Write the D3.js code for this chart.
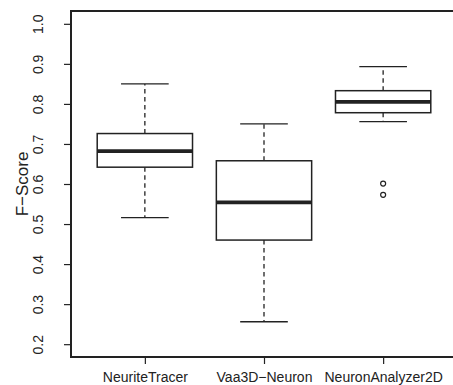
<!DOCTYPE html>
<html>
<head>
<meta charset="utf-8">
<script src="https://cdn.jsdelivr.net/npm/d3@7/dist/d3.min.js"></script>
<style>
  html, body { margin: 0; padding: 0; background: #fff; }
  svg { display: block; font-family: "Liberation Sans", Arial, Helvetica, sans-serif; }
</style>
</head>
<body>
<svg id="chart" width="453" height="385"></svg>
<script>
// Box-plot summaries of F-Score for each tracing tool
const categories  = ["NeuriteTracer", "Vaa3D\u2212Neuron", "NeuronAnalyzer2D"];
const whiskerLow  = [0.516, 0.256, 0.756];
const quartile1   = [0.642, 0.460, 0.778];
const medians     = [0.682, 0.554, 0.805];
const quartile3   = [0.726, 0.658, 0.833];
const whiskerHigh = [0.850, 0.750, 0.893];
const outliers    = [[], [], [0.601, 0.573]];
const yTicks      = [0.2, 0.3, 0.4, 0.5, 0.6, 0.7, 0.8, 0.9, 1.0];
const yTitle      = "F\u2212Score";

const ink = "#222";
const svg = d3.select("#chart");

// Plot region (right edge runs past the window)
const plotLeft = 71, plotRight = 457, plotTop = 11, plotBottom = 357;

const x = d3.scaleLinear().domain([0.38, 3.62]).range([plotLeft, plotRight]);
const y = d3.scaleLinear().domain([0.168, 1.032]).range([plotBottom, plotTop]);
const boxHalf = 0.4, stapleHalf = 0.2;

// frame
svg.append("rect")
  .attr("x", plotLeft).attr("y", plotTop)
  .attr("width", plotRight - plotLeft).attr("height", plotBottom - plotTop)
  .attr("fill", "none").attr("stroke", ink).attr("stroke-width", 2);

// y axis
const yAxis = svg.append("g")
  .attr("transform", `translate(${plotLeft},0)`)
  .call(d3.axisLeft(y).tickValues(yTicks).tickSize(7).tickFormat(d3.format(".1f")));
yAxis.select(".domain").remove();
yAxis.selectAll(".tick line").attr("stroke", ink).attr("stroke-width", 1.2);
yAxis.selectAll(".tick text")
  .attr("x", 0).attr("y", 0).attr("dy", 0)
  .attr("transform", "translate(-28,0) rotate(-90)")
  .attr("text-anchor", "middle")
  .attr("font-size", 14).attr("fill", ink)
  .attr("font-family", "'Liberation Sans', Arial, sans-serif");

// x axis
const xAxis = svg.append("g")
  .attr("transform", `translate(0,${plotBottom})`)
  .call(d3.axisBottom(x).tickValues([1, 2, 3]).tickSize(7)
    .tickFormat((d) => categories[d - 1]));
xAxis.select(".domain").remove();
xAxis.selectAll(".tick line").attr("stroke", ink).attr("stroke-width", 1.2);
xAxis.selectAll(".tick text")
  .attr("y", 25).attr("dy", 0)
  .attr("font-size", 14).attr("fill", ink)
  .attr("font-family", "'Liberation Sans', Arial, sans-serif");

// y title
svg.append("text")
  .attr("transform", `translate(28,${(plotTop + plotBottom) / 2}) rotate(-90)`)
  .attr("text-anchor", "middle")
  .attr("font-size", 17).attr("fill", ink)
  .text(yTitle);

// boxes
const groups = categories.map((c, i) => ({
  pos: i + 1, lo: whiskerLow[i], q1: quartile1[i], med: medians[i],
  q3: quartile3[i], hi: whiskerHigh[i], out: outliers[i]
}));

const g = svg.selectAll("g.box").data(groups).join("g").attr("class", "box");

// whiskers
g.append("line")
  .attr("x1", (d) => x(d.pos)).attr("x2", (d) => x(d.pos))
  .attr("y1", (d) => y(d.q3)).attr("y2", (d) => y(d.hi))
  .attr("stroke", ink).attr("stroke-width", 1.3).attr("stroke-dasharray", "4.5,3.5");
g.append("line")
  .attr("x1", (d) => x(d.pos)).attr("x2", (d) => x(d.pos))
  .attr("y1", (d) => y(d.q1)).attr("y2", (d) => y(d.lo))
  .attr("stroke", ink).attr("stroke-width", 1.3).attr("stroke-dasharray", "4.5,3.5");

// staples
["hi", "lo"].forEach((k) => {
  g.append("line")
    .attr("x1", (d) => x(d.pos - stapleHalf)).attr("x2", (d) => x(d.pos + stapleHalf))
    .attr("y1", (d) => y(d[k])).attr("y2", (d) => y(d[k]))
    .attr("stroke", ink).attr("stroke-width", 1.3);
});

// interquartile boxes
g.append("rect")
  .attr("x", (d) => x(d.pos - boxHalf))
  .attr("width", (d) => x(d.pos + boxHalf) - x(d.pos - boxHalf))
  .attr("y", (d) => y(d.q3))
  .attr("height", (d) => y(d.q1) - y(d.q3))
  .attr("fill", "#fff").attr("stroke", ink).attr("stroke-width", 1.5);

// medians
g.append("line")
  .attr("x1", (d) => x(d.pos - boxHalf)).attr("x2", (d) => x(d.pos + boxHalf))
  .attr("y1", (d) => y(d.med)).attr("y2", (d) => y(d.med))
  .attr("stroke", ink).attr("stroke-width", 3.8);

// outliers
g.selectAll("circle").data((d) => d.out.map((v) => ({ pos: d.pos, v })))
  .join("circle")
  .attr("cx", (d) => x(d.pos)).attr("cy", (d) => y(d.v))
  .attr("r", 2.5).attr("fill", "none").attr("stroke", ink).attr("stroke-width", 1.2);
</script>
</body>
</html>
